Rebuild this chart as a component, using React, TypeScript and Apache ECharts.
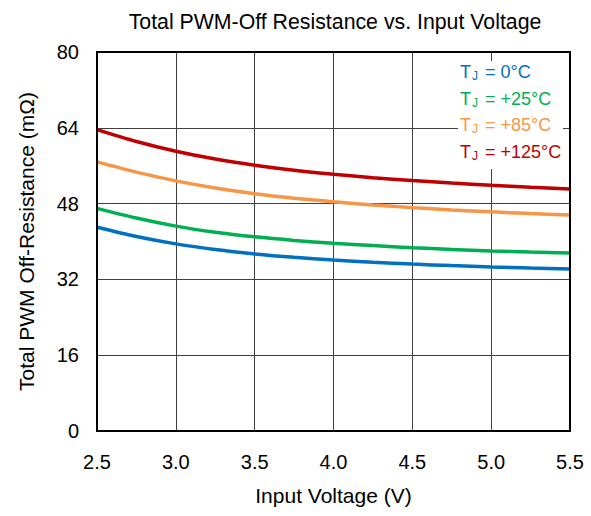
import React, { useEffect, useRef } from "react";
import * as echarts from "echarts";

const voltages = [2.5, 2.75, 3.0, 3.25, 3.5, 3.75, 4.0, 4.25, 4.5, 4.75, 5.0, 5.25, 5.5];
const r0C = [43.0, 41.05, 39.5, 38.3, 37.38, 36.66, 36.09, 35.62, 35.23, 34.91, 34.64, 34.41, 34.21];
const r25C = [47.0, 44.95, 43.25, 41.95, 40.98, 40.23, 39.63, 39.13, 38.7, 38.33, 38.02, 37.76, 37.55];
const r85C = [56.8, 54.65, 52.8, 51.3, 50.1, 49.15, 48.37, 47.71, 47.15, 46.67, 46.26, 45.91, 45.6];
const r125C = [63.6, 61.1, 59.05, 57.4, 56.1, 55.05, 54.2, 53.48, 52.86, 52.33, 51.86, 51.46, 51.1];
const seriesNames = ["0°C", "+25°C", "+85°C", "+125°C"];
const colors = ["#0070C0", "#00B050", "#F79646", "#C00000"];

const FONT = "Liberation Sans, Arial, sans-serif";

export default function App() {
  const ref = useRef<HTMLDivElement>(null);
  useEffect(() => {
    if (!ref.current) return;
    const chart = echarts.init(ref.current, null, { renderer: "svg" });
    const all = [r0C, r25C, r85C, r125C];
    chart.setOption({
      animation: false,
      backgroundColor: "#fff",
      textStyle: { fontFamily: FONT },
      title: {
        text: "Total PWM-Off Resistance vs. Input Voltage",
        left: 330,
        textAlign: "center",
        top: 6,
        textStyle: { fontSize: 21.3, fontWeight: "normal", color: "#000", fontFamily: FONT },
      },
      grid: { left: 97, top: 52, right: 21, bottom: 85 },
      xAxis: {
        type: "value",
        min: 2.5,
        max: 5.5,
        interval: 0.5,
        name: "Input Voltage (V)",
        nameLocation: "middle",
        nameGap: 54,
        nameTextStyle: { fontSize: 21, color: "#000", fontFamily: FONT },
        axisLine: { show: true, lineStyle: { color: "#000", width: 2 } },
        axisTick: { show: false },
        axisLabel: {
          fontSize: 20,
          color: "#000",
          margin: 21,
          fontFamily: FONT,
          formatter: (v: number) => v.toFixed(1),
        },
        splitLine: { show: true, lineStyle: { color: "#404040", width: 1 } },
      },
      yAxis: {
        type: "value",
        min: 0,
        max: 80,
        interval: 16,
        name: "Total PWM Off-Resistance (mΩ)",
        nameLocation: "middle",
        nameGap: 60,
        nameTextStyle: { fontSize: 21, color: "#000", fontFamily: FONT },
        axisLine: { show: true, lineStyle: { color: "#000", width: 2 } },
        axisTick: { show: false },
        axisLabel: { fontSize: 20, color: "#000", margin: 18, fontFamily: FONT },
        splitLine: { show: true, lineStyle: { color: "#404040", width: 1 } },
      },
      series: all.map((arr, i) => ({
        type: "line",
        name: seriesNames[i],
        data: voltages.map((v, j) => [v, arr[j]]),
        smooth: 0.3,
        showSymbol: false,
        lineStyle: { color: colors[i], width: 3.5 },
        z: 3,
      })),
      graphic: [
        {
          type: "rect",
          shape: { x: 97, y: 52, width: 473, height: 379 },
          style: { fill: "none", stroke: "#000", lineWidth: 2 },
          z: 10,
          silent: true,
        },
        {
          type: "rect",
          shape: { x: 458, y: 61, width: 105, height: 108 },
          style: { fill: "#fff" },
          z: 15,
          silent: true,
        },
        ...seriesNames.map((n, i) => ({
          type: "text",
          left: 460,
          top: 63 + i * 26.7,
          z: 20,
          style: {
            text: `{t|T}{s|J}{t| = ${n}}`,
            rich: {
              t: { fontSize: 18, fill: colors[i], fontFamily: FONT },
              s: { fontSize: 12, fill: colors[i], fontFamily: FONT, verticalAlign: "bottom", padding: [8, 2, 0, 1] },
            },
          },
        })),
      ],
    });
    return () => chart.dispose();
  }, []);
  return (
    <div
      ref={ref}
      style={{ position: "absolute", left: 0, top: 0, width: 591, height: 516 }}
    />
  );
}
